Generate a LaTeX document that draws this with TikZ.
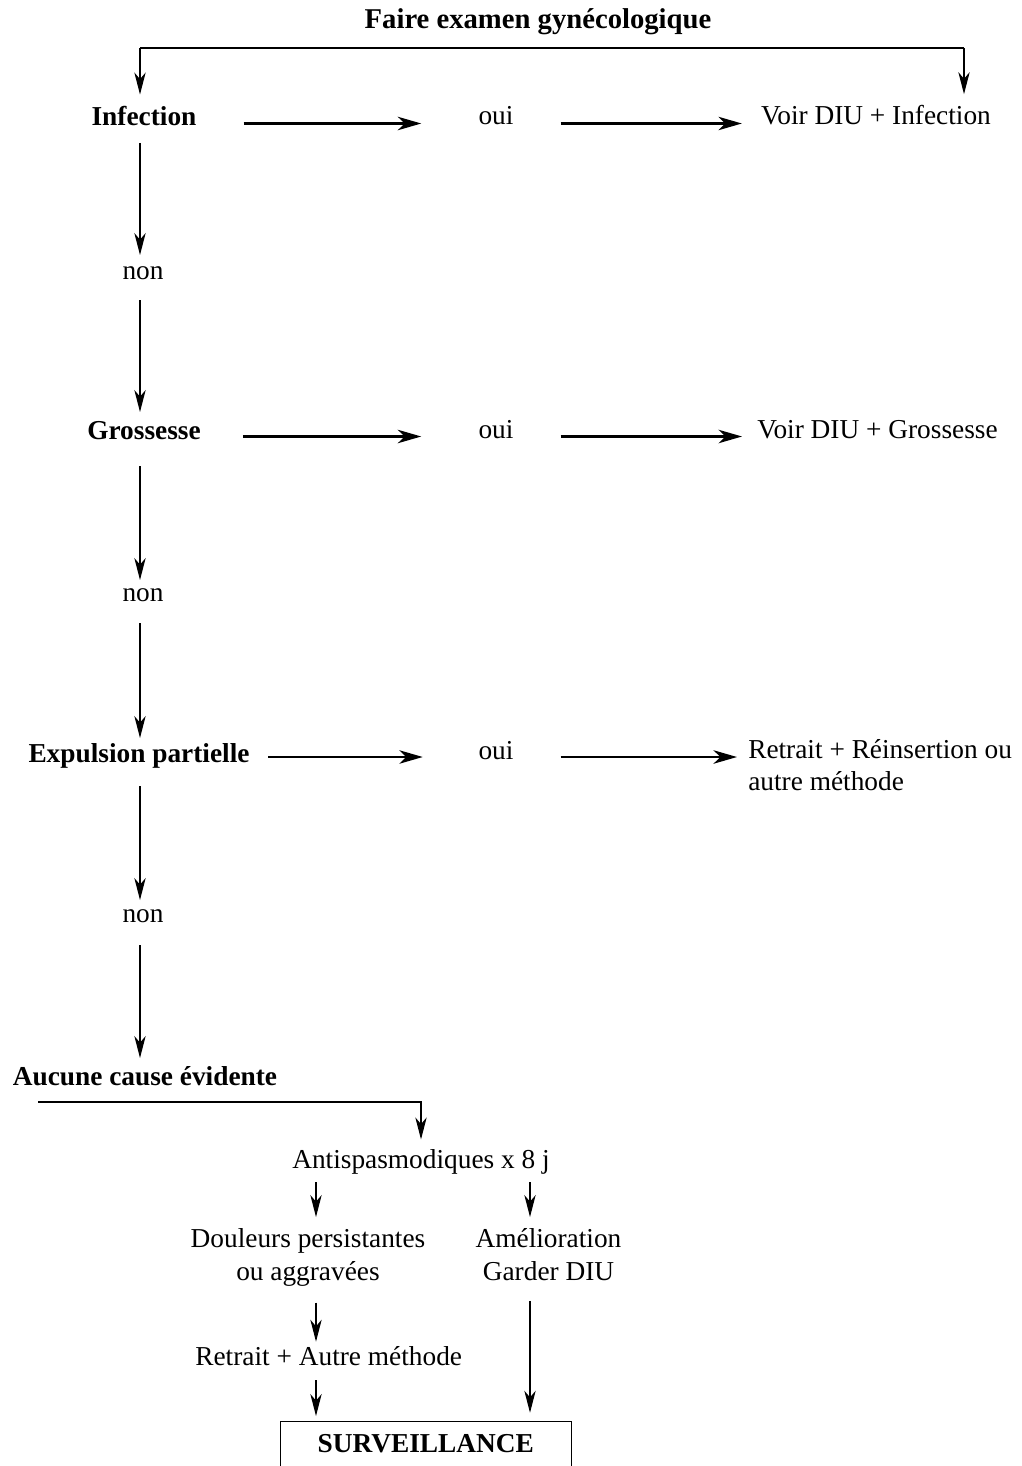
\documentclass[tikz,border=0pt]{standalone}
\usepackage{fontspec}
\setmainfont{Liberation Serif}
\usetikzlibrary{arrows.meta,calc}
\begin{document}
\begin{tikzpicture}[x=0.75pt,y=-0.75pt,
  lbl/.style={inner sep=0pt, anchor=base, font=\fontsize{20.5}{24}\selectfont},
  blbl/.style={lbl, font=\fontsize{20.5}{24}\selectfont\bfseries},
  mlbl/.style={inner sep=0pt, font=\fontsize{20.5}{25}\selectfont},
  tarr/.style={line width=0.9pt, -{Stealth[length=16.5pt,width=8.5pt,inset=5pt]}},
  harr/.style={line width=2.2pt, -{Stealth[length=17.5pt,width=10pt,inset=5pt]}},
  barline/.style={line width=0.9pt}]
\useasboundingbox (0,0) rectangle (1021,1466);
% nodes
\node[blbl, font=\fontsize{21.5}{26}\selectfont\bfseries] (faire) at (538,29) {Faire examen gynécologique};
\node[blbl] (inf) at (144,126) {Infection};
\node[lbl] (oui1) at (496,125) {oui};
\node[lbl] (voir1) at (876,125) {Voir DIU + Infection};
\node[lbl] (non1) at (143,279) {non};
\node[blbl] (gro) at (144,439) {Grossesse};
\node[lbl] (oui2) at (496,438) {oui};
\node[lbl] (voir2) at (877.5,438) {Voir DIU + Grossesse};
\node[lbl] (non2) at (143,601) {non};
\node[blbl] (expu) at (139,762) {Expulsion partielle};
\node[lbl] (oui3) at (496,759) {oui};
\node[mlbl, anchor=north west, align=left, font=\fontsize{20.5}{24}\selectfont] (retr) at (748,739) {Retrait + Réinsertion ou\\autre méthode};
\node[lbl] (non3) at (143,922) {non};
\node[blbl] (auc) at (145,1085) {Aucune cause évidente};
\node[lbl] (anti) at (421,1168) {Antispasmodiques x 8 j};
\node[mlbl, anchor=north, align=center] (doul) at (308,1228) {Douleurs persistantes\\ou aggravées};
\node[mlbl, anchor=north, align=center] (amel) at (548.5,1228) {Amélioration\\Garder DIU};
\node[lbl] (ret2) at (328.7,1365) {Retrait + Autre méthode};
\node[draw, line width=0.9pt, inner xsep=0pt, inner ysep=0pt, minimum width=218.25pt,
      text height=23pt, text depth=30pt, anchor=north,
      font=\fontsize{20.5}{24}\selectfont\bfseries] (surv) at (425.8,1421) {SURVEILLANCE};
% helper coordinates
\coordinate (col0) at (140,0);
\coordinate (colA) at (316,0);
\coordinate (colB) at (530,0);
\coordinate (barL) at (140,48);
\coordinate (barR) at (964,48);
\coordinate (bar2) at (38,1102);
% top bracket
\draw[barline] (barL) -- (barR);
\draw[tarr, shorten >=9pt] (barL) -- (barL |- inf.north);
\draw[tarr, shorten >=8.5pt] (barR) -- (barR |- voir1.north);
% main column
\draw[tarr, shorten <=12.75pt, shorten >=18pt] (inf.base -| col0) -- (non1.base -| col0);
\draw[tarr, shorten <=15.75pt, shorten >=20.25pt] (non1.base -| col0) -- (gro.base -| col0);
\draw[tarr, shorten <=20.25pt, shorten >=15.75pt] (gro.base -| col0) -- (non2.base -| col0);
\draw[tarr, shorten <=16.5pt, shorten >=18pt] (non2.base -| col0) -- (expu.base -| col0);
\draw[tarr, shorten <=18pt, shorten >=16.5pt] (expu.base -| col0) -- (non3.base -| col0);
\draw[tarr, shorten <=17.25pt, shorten >=20.25pt] (non3.base -| col0) -- (auc.base -| col0);
% horizontal rows
\draw[harr, shorten <=35.25pt, shorten >=42.75pt] ($(inf.base east |- oui1.base)+(0,-1.5)$) -- ($(oui1.base west)+(0,-1.5)$);
\draw[harr, shorten <=35.25pt, shorten >=14.25pt] ($(oui1.base east)+(0,-1.5)$) -- ($(voir1.base west |- oui1.base)+(0,-1.5)$);
\draw[harr, shorten <=31.5pt, shorten >=42.75pt] ($(gro.base east |- oui2.base)+(0,-1.5)$) -- ($(oui2.base west)+(0,-1.5)$);
\draw[harr, shorten <=35.25pt, shorten >=11.25pt] ($(oui2.base east)+(0,-1.5)$) -- ($(voir2.base west |- oui2.base)+(0,-1.5)$);
\draw[harr, shorten <=13.9pt, shorten >=41.6pt] ($(expu.base east |- oui3.base)+(0,-2)$) -- ($(oui3.base west)+(0,-2)$);
\draw[harr, shorten <=35.25pt, shorten >=8.25pt] ($(oui3.base east)+(0,-2)$) -- ($(retr.west |- oui3.base)+(0,-2)$);
% lower part
\draw[tarr, shorten >=7pt] (bar2) -| (anti.north);
\draw[tarr, shorten <=6pt, shorten >=8.25pt] (anti.south -| colA) -- (doul.north -| colA);
\draw[tarr, shorten <=6pt, shorten >=8.25pt] (anti.south -| colB) -- (amel.north -| colB);
\draw[tarr, shorten <=12pt, shorten >=17.5pt] (doul.south -| colA) -- (ret2.base -| colA);
\draw[tarr, shorten <=11.25pt, shorten >=3.75pt] (ret2.base -| colA) -- (surv.north -| colA);
\draw[tarr, shorten <=14.8pt, shorten >=6.2pt] (amel.south -| colB) -- (surv.north -| colB);
\end{tikzpicture}
\end{document}
